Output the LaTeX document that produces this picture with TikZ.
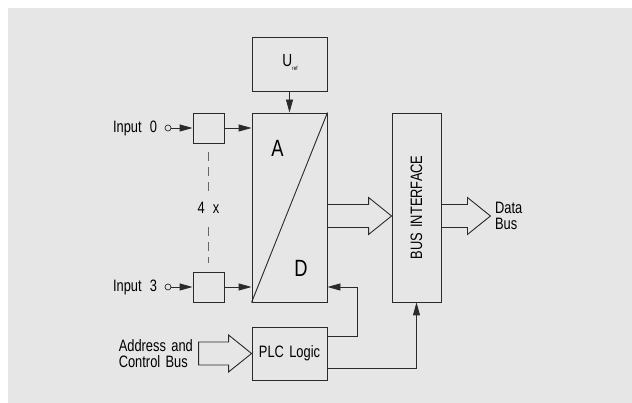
\documentclass[tikz,border=0pt]{standalone}
\usepackage{fontspec}
\setmainfont{Liberation Sans}[FakeStretch=0.78,WordSpace=1.5]
\usepackage{tikz}
\usetikzlibrary{arrows.meta,calc,positioning}
\definecolor{bggray}{HTML}{E6E6E6}
\definecolor{linegray}{HTML}{2A2A2A}

% hollow bus arrow: start point, tip
\newcommand{\busarrow}[3][]{%
  \draw[busline] ($(#2)+(0,11.5)$) -- ($(#3)+(-23,11.5)$) -- ($(#3)+(-23,18.5)$)
    -- (#3) -- ($(#3)+(-23,-18.5)$) -- ($(#3)+(-23,-11.5)$)
    -- ($(#2)+(0,-11.5)$) #1;}

\begin{document}
\begin{tikzpicture}[
    x=1pt, y=1pt,
    font=\fontsize{16.5}{15.3}\selectfont,
    >={Triangle[length=13pt,width=7pt]},
    blk/.style={draw=linegray, line width=0.9pt, fill=bggray, inner sep=0pt},
    lab/.style={inner sep=1.5pt, text=black},
    big/.style={inner sep=0pt, font=\fontsize{23.5}{23.5}\selectfont},
    sig/.style={->, line width=0.9pt, draw=linegray},
    busline/.style={draw=linegray, line width=0.9pt, line join=miter},
    pin/.style={circle, draw=linegray, line width=0.7pt, minimum size=6pt, inner sep=0pt},
  ]
  \useasboundingbox (0,0) rectangle (632,403);
  \fill[bggray] (8,0) rectangle (632,395);

  %% ---- blocks -------------------------------------------------------------
  \node[blk, minimum width=75, minimum height=54]  (uref) at (289.5,339) {};
  \node[lab, font=\fontsize{17.5}{17.5}\selectfont] at (290,340)
    {U\raisebox{-4pt}{\fontsize{6}{6}\selectfont ref}};
  \node[blk, minimum width=75, minimum height=189] (adc)  at (289.5,195.5) {};
  \node[blk, minimum width=49, minimum height=189] (bus)  at (416.5,195.5) {};
  \node[lab, rotate=90] at (bus) {BUS INTERFACE};
  \node[blk, minimum width=75, minimum height=53]  (plc)  at (289.5,49.5) {PLC Logic};
  \node[blk, minimum width=31, minimum height=30]  (in0)  at (208.5,275) {};
  \node[blk, minimum width=31, minimum height=30]  (in3)  at (208.5,116) {};

  %% ---- A/D converter face ---------------------------------------------------
  \draw[linegray, line width=0.9pt] (adc.south west) -- (adc.north east);
  \node[big] (ltrA) at (277.5,254.5) {A};
  \node[big] (ltrD) at (301,135) {D};

  %% ---- analog inputs --------------------------------------------------------
  \node[pin] (c0) at (168,275) {};
  \node[pin] (c3) at (168,116) {};
  \node[lab, left=6pt of c0] {Input\, 0};
  \node[lab, left=6pt of c3] {Input\, 3};
  \draw[sig] (c0) -- (in0);
  \draw[sig] (c3) -- (in3);
  \draw[sig] (in0) -- (in0 -| adc.west);
  \draw[sig] (in3) -- (in3 -| adc.west);
  \draw[black!60, line width=0.9pt, dash pattern=on 9pt off 6pt]
    ($(in0.south)+(0,-9)$) -- node[lab, fill=bggray, inner ysep=8pt]{4\, x}
    ($(in3.north)+(0,9)$);

  %% ---- reference and control lines ------------------------------------------
  \draw[sig] (uref) -- (adc);
  \coordinate (fb) at (357,116);
  \draw[sig] ($(plc.north east)+(0,-10)$) -| (fb) -- (fb -| adc.east);
  \draw[sig] ($(plc.south east)+(0,12)$) -| (bus.south);

  %% ---- bus arrows -----------------------------------------------------------
  \coordinate (bin)   at ($(bus.west)+(0,-8.5)$);
  \coordinate (adout) at (adc.east |- bin);
  \coordinate (bout)  at (bus.east |- bin);
  \coordinate (dbus)  at ($(bout)+(49,0)$);
  \coordinate (addr)  at ($(plc.west)+(-53,0)$);
  \busarrow{adout}{bin}
  \busarrow{bout}{dbus}
  \busarrow[-- cycle]{addr}{plc.west}
  \node[lab, anchor=west, align=left] at ($(dbus)+(3,0)$) {Data\\Bus};
  \node[lab, anchor=east, align=left] at ($(addr)+(-4,0)$) {Address and\\Control Bus};
\end{tikzpicture}
\end{document}
